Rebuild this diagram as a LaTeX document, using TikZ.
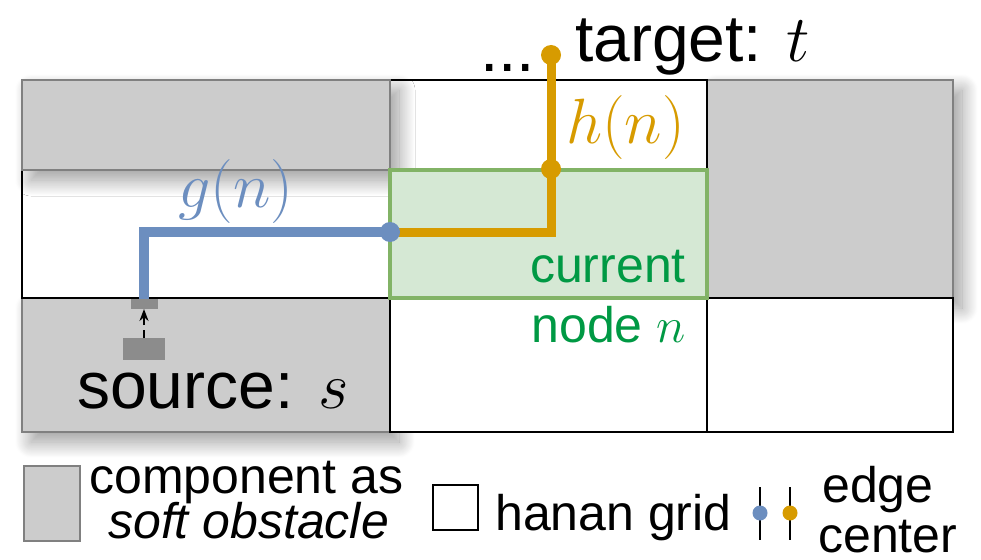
\RequirePackage{fix-cm}
\documentclass[tikz,border=0pt]{standalone}
\usepackage{fontspec}
\setmainfont{Liberation Sans}
\usetikzlibrary{shadows.blur,arrows.meta}
\definecolor{obsfill}{HTML}{CCCCCC}
\definecolor{obsline}{HTML}{808080}
\definecolor{curfill}{HTML}{D5E8D4}
\definecolor{curline}{HTML}{82B366}
\definecolor{curtext}{HTML}{009944}
\definecolor{gblue}{HTML}{6C8EBF}
\definecolor{horange}{HTML}{D79B00}
\definecolor{pingray}{HTML}{8C8C8C}
\begin{document}
\begin{tikzpicture}[x=1pt,y=-1pt,
  cell/.style={draw=black,line width=2.5pt,fill=white,rectangle,inner sep=0pt,outer sep=0pt},
  obs/.style={draw=obsline,line width=2pt,fill=obsfill,rectangle,inner sep=0pt,outer sep=0pt,
    blur shadow={shadow xshift=9pt,shadow yshift=-10pt,shadow blur radius=16pt,shadow opacity=40,shadow blur steps=24}},
  curbox/.style={draw=curline,line width=4pt,fill=curfill,rectangle,inner sep=0pt,outer sep=0pt},
  bigtxt/.style={font=\fontsize{66}{70}\selectfont,inner sep=0pt},
  mathtxt/.style={font=\fontsize{64}{68}\selectfont,inner sep=0pt},
  midtxt/.style={font=\fontsize{50}{54}\selectfont,inner sep=0pt},
  gpath/.style={draw=gblue,line width=10pt,line join=miter},
  hpath/.style={draw=horange,line width=9pt,line join=miter},
  gdot/.style={circle,fill=gblue,minimum size=20pt,inner sep=0pt},
  hdot/.style={circle,fill=horange,minimum size=20pt,inner sep=0pt},
  pinbox/.style={fill=pingray,rectangle,inner sep=0pt,outer sep=0pt}
]
\useasboundingbox (0,0) rectangle (981,559);
% grid cells and obstacles
\node[obs,minimum width=246pt,minimum height=218pt] (obsR) at (830,189) {};
\node[obs,minimum width=368pt,minimum height=134pt] (obsBL) at (206,365) {};
\node[cell,minimum width=317pt,minimum height=90pt] (cellTM) at (548.5,125) {};
\node[cell,minimum width=368pt,minimum height=128pt] (cellML) at (206,234) {};
\node[obs,minimum width=368pt,minimum height=90pt] (obsTL) at (206,125) {};
\node[cell,minimum width=317pt,minimum height=134pt] (cellBM) at (548.5,365) {};
\node[cell,minimum width=246pt,minimum height=134pt] (cellBR) at (830,365) {};
\node[curbox,minimum width=317pt,minimum height=128pt] (cur) at (548.5,234) {};
% source pin and component
\node[pinbox,minimum width=27pt,minimum height=10pt] (pin) at (144,304) {};
\node[pinbox,minimum width=42pt,minimum height=22pt] (srcbox) at (144,349) {};
\draw[black,line width=2pt,dash pattern=on 8pt off 5pt,-{Stealth[length=12pt,width=9pt]}] (srcbox.north) -- (pin.south);
% paths
\coordinate (bj) at (390,232);
\coordinate (oc) at (551,169);
\coordinate (ot) at (551,55);
\draw[gpath] (pin.north) |- (bj);
\draw[hpath] (bj) -| (ot);
\node[hdot] (hd1) at (oc) {};
\node[hdot] (hd2) at (ot) {};
\node[gdot] (gd) at (bj) {};
% labels
\node[bigtxt,anchor=base west] (dots) at (480,72) {...};
\node[bigtxt,anchor=base west] (tgt) at (575,62) {target: $t$};
\node[mathtxt,anchor=base west,text=horange] (hn) at (566,143) {$h(n)$};
\node[mathtxt,anchor=base west,text=gblue] (gn) at (178,207) {$g(n)$};
\node[midtxt,anchor=base east,text=curtext] (curl) at (686,282) {current};
\node[midtxt,anchor=base east,text=curtext] (curn) at (686,342) {node $n$};
\node[bigtxt,anchor=base west] (src) at (77,408) {source: $s$};
% legend
\node[draw=obsline,line width=2pt,fill=obsfill,rectangle,inner sep=0pt,minimum width=56pt,minimum height=75pt] (lgobs) at (52,503.5) {};
\node[midtxt,anchor=base west] (lg1a) at (89,493) {component as};
\node[midtxt,anchor=base west] (lg1b) at (108,538) {\itshape soft obstacle};
\node[cell,line width=2pt,minimum width=45pt,minimum height=45pt] (lgcell) at (455.5,507.5) {};
\node[midtxt,anchor=base west] (lg2) at (495,530) {hanan grid};
\coordinate (e1t) at (760,487);
\coordinate (e1b) at (760,540);
\coordinate (e2t) at (790,487);
\coordinate (e2b) at (790,540);
\draw[black,line width=2pt] (e1t) -- (e1b);
\draw[black,line width=2pt] (e2t) -- (e2b);
\node[gdot,minimum size=15pt] (lgd1) at (760,513) {};
\node[hdot,minimum size=15pt] (lgd2) at (790,513) {};
\node[midtxt,anchor=base west] (lg3a) at (822,502) {edge};
\node[midtxt,anchor=base west] (lg3b) at (818,552) {center};
\end{tikzpicture}
\end{document}
